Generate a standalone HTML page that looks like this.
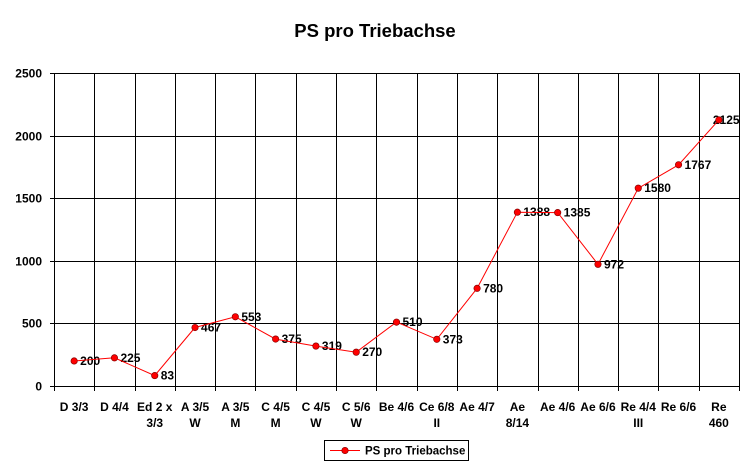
<!DOCTYPE html>
<html><head><meta charset="utf-8"><style>body{margin:0;background:#fff}svg{display:block}text{font-family:"Liberation Sans",Arial,sans-serif;font-weight:bold;fill:#000}</style></head><body>
<svg width="750" height="467" viewBox="0 0 750 467" xmlns="http://www.w3.org/2000/svg">
<text x="375" y="37" font-size="18.5" text-anchor="middle">PS pro Triebachse</text>
<g id="grid" stroke="#000" stroke-width="1"></g>
<g id="lab" font-size="12"></g>
<g id="ser"></g>
<rect x="324.5" y="440.5" width="144" height="20" fill="#fff" stroke="#000"/>
<line x1="330" y1="450.5" x2="360" y2="450.5" stroke="#f00" stroke-width="1"/>
<circle cx="345" cy="450.5" r="3.2" fill="#f00" stroke="#800" stroke-width="0.7"/>
<text x="365" y="454.5" font-size="11.5">PS pro Triebachse</text>
<script>
var L=54,R=739,T=73,B=386,n=17,w=(R-L)/n,ns="http://www.w3.org/2000/svg";
function el(p,t,a,tx){var e=document.createElementNS(ns,t);for(var k in a)e.setAttribute(k,a[k]);if(tx!=null)e.textContent=tx;document.getElementById(p).appendChild(e);}
function y(v){return B-(v/2500)*(B-T);}
for(var v=0;v<=2500;v+=500){var yy=Math.round(y(v))+0.5;el('grid','line',{x1:L-4,x2:R,y1:yy,y2:yy});el('lab','text',{x:L-12,y:yy+4,'text-anchor':'end'},v);}
for(var i=0;i<=n;i++){var xx=Math.round(L+i*w)+0.5;el('grid','line',{x1:xx,x2:xx,y1:T,y2:B+5});}
var cats=[["D 3/3"],["D 4/4"],["Ed 2 x","3/3"],["A 3/5","W"],["A 3/5","M"],["C 4/5","M"],["C 4/5","W"],["C 5/6","W"],["Be 4/6"],["Ce 6/8","II"],["Ae 4/7"],["Ae","8/14"],["Ae 4/6"],["Ae 6/6"],["Re 4/4","III"],["Re 6/6"],["Re","460"]];
var vals=[200,225,83,467,553,375,319,270,510,373,780,1388,1385,972,1580,1767,2125];
var pts=[];
cats.forEach(function(c,i){var cx=L+(i+0.5)*w;c.forEach(function(s,j){el('lab','text',{x:cx,y:411+j*16,'text-anchor':'middle'},s);});pts.push(cx.toFixed(1)+','+y(vals[i]).toFixed(1));});
el('ser','polyline',{points:pts.join(' '),fill:'none',stroke:'#f00','stroke-width':1});
vals.forEach(function(v,i){var cx=L+(i+0.5)*w,cy=y(v);el('ser','circle',{cx:cx,cy:cy,r:3.2,fill:'#f00',stroke:'#800','stroke-width':0.7});var lx=(i==16)?cx-6:cx+6;el('lab','text',{x:lx,y:cy+4,'font-size':'12'},v);});
</script>
</svg>
</body></html>
